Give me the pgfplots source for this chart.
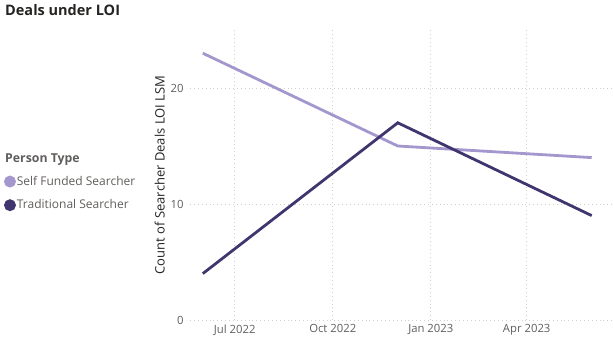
\documentclass[border=0pt]{standalone}
\usepackage{pgfplots}
\pgfplotsset{compat=1.18}
\usepackage{fontspec}
\setmainfont{Open Sans}
\definecolor{lightp}{HTML}{A397CD}
\definecolor{darkp}{HTML}{41356F}
\definecolor{tickc}{HTML}{605E5C}
\definecolor{gridc}{HTML}{D2D0CE}
\definecolor{titlec}{HTML}{252423}
\begin{document}
\begin{tikzpicture}[x=1bp,y=1bp]
\useasboundingbox (0,0) rectangle (613,360);
\node[anchor=north west,inner sep=0pt,font=\fontsize{14.5bp}{16bp}\selectfont\bfseries,text=titlec] at (5,356) {Deals under LOI};
\node[anchor=west,inner sep=0pt,font=\fontsize{12.3bp}{14bp}\selectfont\bfseries,text=tickc] at (5,200) {Person Type};
\begin{axis}[
  at={(190bp,40bp)}, anchor=south west,
  width=423bp, height=290bp, scale only axis,
  xmin=139, xmax=536, ymin=0, ymax=25,
  axis line style={draw=none},
  major tick length=0pt,
  xtick={181,273,365,455},
  xticklabels={Jul 2022,Oct 2022,Jan 2023,Apr 2023},
  ytick={0,10,20},
  grid=major,
  major grid style={gridc, line width=0.9bp, dash pattern=on 0.9bp off 3bp},
  /pgf/number format/assume math mode=true,
  ticklabel style={font=\fontsize{11.3bp}{13bp}\selectfont, text=tickc},
  xticklabel style={yshift=-1bp},
  yticklabel style={xshift=-3bp},
  ylabel={Count of Searcher Deals LOI LSM},
  ylabel style={font=\fontsize{13bp}{15bp}\selectfont, text=titlec, yshift=-1bp},
  legend style={at={(axis description cs:-0.44,0.50)}, anchor=north west, draw=none, fill=none,
    font=\fontsize{12bp}{14bp}\selectfont, text=tickc, row sep=11bp,
    inner sep=0pt, nodes={inner sep=1bp}},
  legend cell align=left,
  legend image code/.code={\fill[#1] (2bp,0bp) circle (4.5bp);},
  clip=false,
]
\addplot[lightp, line width=2.8bp] coordinates {(151,23) (334,15) (516,14)};
\addlegendentry{Self Funded Searcher}
\addplot[darkp, line width=2.8bp] coordinates {(151,4) (334,17) (516,9)};
\addlegendentry{Traditional Searcher}
\end{axis}
\end{tikzpicture}
\end{document}
